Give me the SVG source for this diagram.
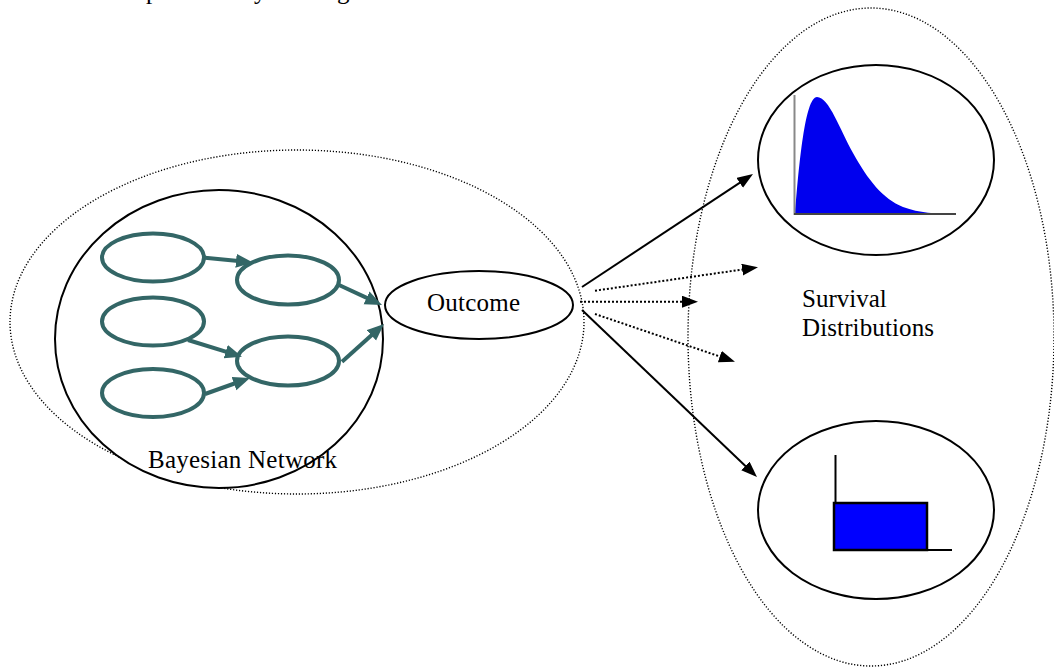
<svg xmlns="http://www.w3.org/2000/svg" width="1054" height="668" viewBox="0 0 1054 668">
<defs>
<style>
.dot{fill:none;stroke:#000;stroke-width:1.4;stroke-dasharray:1.2 1.8}
.solid{fill:#fff;stroke:#000;stroke-width:2}
.bn{fill:#fff;stroke:#336666;stroke-width:4}
.bnl{fill:none;stroke:#336666;stroke-width:4;marker-end:url(#ta)}
.bl{fill:none;stroke:#000;stroke-width:2;marker-end:url(#ba)}
.bd{fill:none;stroke:#000;stroke-width:2;stroke-dasharray:2 2;marker-end:url(#ba)}
.t{font-family:"Liberation Serif","Times New Roman",serif;font-size:25px;fill:#000}
</style>
<marker id="ta" markerUnits="userSpaceOnUse" markerWidth="18" markerHeight="16" refX="5" refY="7" orient="auto">
<path d="M0,0 L17,7 L0,14 z" fill="#336666"/>
</marker>
<marker id="ba" markerUnits="userSpaceOnUse" markerWidth="18" markerHeight="14" refX="4" refY="6" orient="auto">
<path d="M0,0 L16,6 L0,12 z" fill="#000"/>
</marker>
</defs>
<rect width="1054" height="668" fill="#fff"/>
<text class="t" y="-1" font-size="22"><tspan x="146">probabilit</tspan><tspan x="254">y usin</tspan><tspan x="337">g</tspan></text>

<g id="bayesian-network-group">
<ellipse class="dot" cx="297" cy="322" rx="287" ry="172"/>
<ellipse class="solid" cx="219" cy="339" rx="164" ry="149"/>
<text class="t" x="148" y="468" textLength="189">Bayesian Network</text>
</g>

<g id="survival-group">
<ellipse class="dot" cx="871" cy="337" rx="183" ry="329"/>
<text class="t" x="802" y="307">Survival</text>
<text class="t" x="802" y="336" textLength="132">Distributions</text>
</g>

<g id="n1"><ellipse class="bn" cx="153" cy="257.5" rx="51" ry="24"/></g>
<g id="n2"><ellipse class="bn" cx="288" cy="280" rx="51" ry="24.5"/></g>
<g id="n3"><ellipse class="bn" cx="153" cy="321.5" rx="51" ry="24"/></g>
<g id="n4"><ellipse class="bn" cx="288" cy="361" rx="51" ry="24.5"/></g>
<g id="n5"><ellipse class="bn" cx="153" cy="393" rx="51" ry="24"/></g>

<g id="outcome">
<ellipse class="solid" cx="479" cy="305" rx="94" ry="34"/>
<text class="t" x="427" y="311" textLength="93">Outcome</text>
</g>

<g id="dist-top">
<ellipse class="solid" cx="876" cy="160" rx="118" ry="95"/>
<path d="M795,214 C799,165 805,97 817,97 C829,97 840,130 853,153 C868,180 883,199 903,207 C920,213 935,214 955,214 Z" fill="#0000ee"/>
<line x1="794.5" y1="95" x2="794.5" y2="215" stroke="#888" stroke-width="2"/>
<line x1="794" y1="214" x2="956" y2="214" stroke="#444" stroke-width="2"/>
</g>

<g id="dist-bottom">
<ellipse class="solid" cx="876" cy="510" rx="118" ry="89"/>
<line x1="835.5" y1="455" x2="835.5" y2="503" stroke="#000" stroke-width="2"/>
<rect x="834" y="503" width="93" height="47" fill="#0000ff" stroke="#000" stroke-width="2.5"/>
<line x1="927" y1="550" x2="952" y2="550" stroke="#000" stroke-width="2"/>
</g>

<g id="connectors">
<line class="bnl" x1="205" y1="257.7" x2="241" y2="261.3"/>
<line class="bnl" x1="339" y1="285" x2="371.1" y2="299.9"/>
<line class="bnl" x1="188" y1="340" x2="230.5" y2="353.1"/>
<line class="bnl" x1="205" y1="394" x2="238.7" y2="382"/>
<line class="bnl" x1="342" y1="361.7" x2="375.1" y2="332"/>
<line class="bl" x1="582" y1="287" x2="743" y2="180.6"/>
<line class="bd" x1="595" y1="290.7" x2="746.1" y2="269"/>
<line class="bd" x1="580" y1="301.7" x2="686" y2="301.7"/>
<line class="bd" x1="595" y1="314" x2="723.6" y2="357.8"/>
<line class="bl" x1="582" y1="310" x2="748.3" y2="468.7"/>
</g>
</svg>
